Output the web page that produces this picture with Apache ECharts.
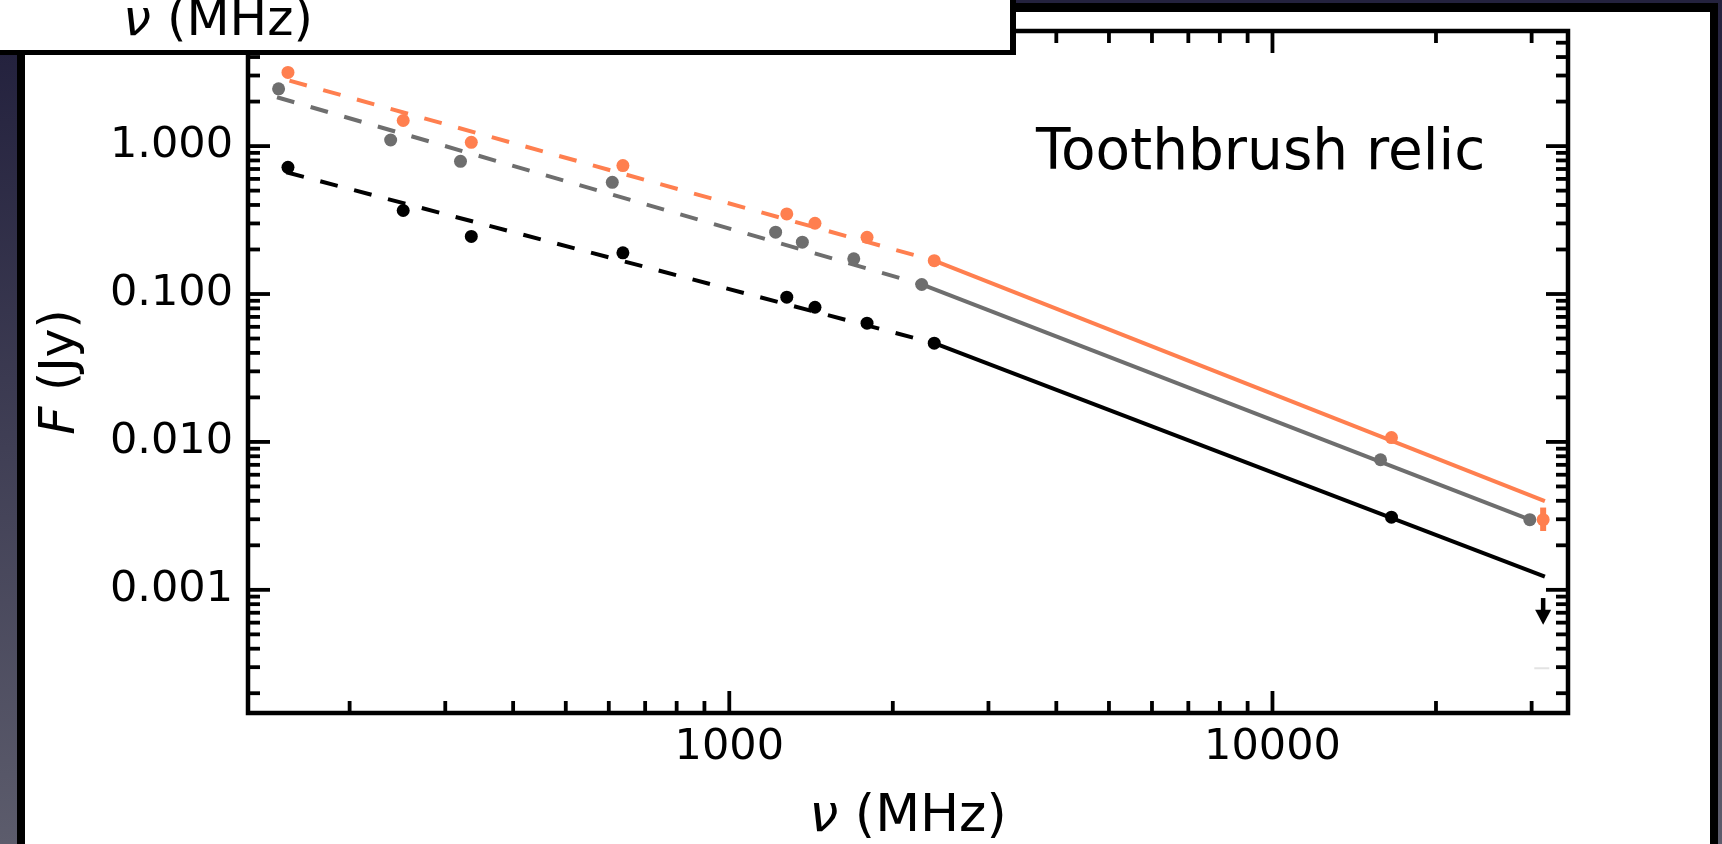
<!DOCTYPE html>
<html><head><meta charset="utf-8">
<script src="https://cdn.jsdelivr.net/npm/echarts@6/dist/echarts.min.js"></script>
<style>html,body{margin:0;padding:0;background:#fff}#c{width:1722px;height:844px}</style>
</head><body><div id="c"></div>
<script>
// Axis ranges
const X_MIN = 130, X_MAX = 35000;
const Y_MIN = 1.47e-4, Y_MAX = 6;

// Tick values
const X_MAJOR_TICKS = [1000, 10000];
const X_MINOR_TICKS = [200, 300, 400, 500, 600, 700, 800, 900, 2000, 3000, 4000, 5000, 6000, 7000, 8000, 9000, 20000, 30000];
const Y_MAJOR_TICKS = [0.001, 0.01, 0.1, 1];
const Y_MINOR_TICKS = [2e-4, 3e-4, 4e-4, 5e-4, 6e-4, 7e-4, 8e-4, 9e-4,
  0.002, 0.003, 0.004, 0.005, 0.006, 0.007, 0.008, 0.009,
  0.02, 0.03, 0.04, 0.05, 0.06, 0.07, 0.08, 0.09,
  0.2, 0.3, 0.4, 0.5, 0.6, 0.7, 0.8, 0.9, 2, 3, 4, 5];

// Measured points (MHz, Jy)
const FREQ_ORANGE = [154, 251, 335, 637, 1276, 1438, 1793, 2384, 16560, 31500];
const FLUX_ORANGE = [3.15, 1.49, 1.06, 0.738, 0.348, 0.301, 0.242, 0.168, 0.0107, 0.00298];
const FREQ_GRAY = [148, 238, 320, 609, 1217, 1363, 1695, 2261, 15810, 29770];
const FLUX_GRAY = [2.44, 1.10, 0.789, 0.569, 0.262, 0.224, 0.173, 0.116, 0.00758, 0.00298];
const FREQ_BLACK = [154, 251, 335, 637, 1276, 1438, 1793, 2384, 16560];
const FLUX_BLACK = [0.719, 0.367, 0.245, 0.190, 0.0952, 0.0814, 0.0635, 0.0465, 0.0031];

// Fitted power laws: start, break, end
const FIT_FREQ_ORANGE = [155, 2384, 31730];
const FIT_FLUX_ORANGE = [2.77, 0.168, 0.00398];
const FIT_FREQ_GRAY = [147, 2261, 29770];
const FIT_FLUX_GRAY = [2.14, 0.116, 0.00298];
const FIT_FREQ_BLACK = [153, 2384, 31730];
const FIT_FLUX_BLACK = [0.665, 0.0465, 0.00123];

// Error bar (orange, last point): freq, low, high
const ERR_ORANGE = [31500, 0.00250, 0.0036];
// Upper limit (black): freq, start, arrow tip
const UPLIM_BLACK = [31500, 8.8e-4, 5.8e-4];
// Faint grey mark
const FAINT_GRAY = [31320, 2.95e-4];

const C_ORANGE = '#ff7f4f', C_GRAY = '#6e6e6e', C_BLACK = '#000000';
const FONT = 'DejaVu Sans';

function pairs(xs, ys) { return xs.map((x, i) => [x, ys[i]]); }
function isPow10(v) { const l = Math.log10(v); return Math.abs(l - Math.round(l)) < 1e-6; }

const xTickItems = X_MAJOR_TICKS.map(v => ({ v, major: true })).concat(X_MINOR_TICKS.map(v => ({ v, major: false })));
const yTickItems = Y_MAJOR_TICKS.map(v => ({ v, major: true })).concat(Y_MINOR_TICKS.map(v => ({ v, major: false })));
const MAJ = 22, MIN = 12, TW = 3.8;

function fitSeries(fx, fy, color) {
  const d = pairs(fx, fy);
  return [
    { type: 'line', data: [d[0], d[1]], symbol: 'none', silent: true, z: 3,
      lineStyle: { color, width: 4, type: [18, 17], cap: 'butt' } },
    { type: 'line', data: [d[1], d[2]], symbol: 'none', silent: true, z: 3,
      lineStyle: { color, width: 4, type: 'solid' } }
  ];
}
function pointSeries(fx, fy, color) {
  return { type: 'scatter', data: pairs(fx, fy), symbol: 'circle', symbolSize: 13, z: 4,
    itemStyle: { color, opacity: 1 } };
}

const chart = echarts.init(document.getElementById('c'), null, { renderer: 'canvas' });
const option = {
  animation: false,
  backgroundColor: '#ffffff',
  grid: { left: 248, right: 154, top: 31, bottom: 131, containLabel: false, outerBoundsMode: 'none',
    show: true, borderColor: '#000', borderWidth: 4.5, backgroundColor: 'transparent' },
  xAxis: {
    type: 'log', logBase: 10, min: X_MIN, max: X_MAX,
    name: '{i|ν} (MHz)', nameLocation: 'middle', nameGap: 78, nameMoveOverlap: false,
    nameTextStyle: { fontFamily: FONT, fontSize: 52, color: '#000',
      rich: { i: { fontFamily: FONT, fontStyle: 'italic', fontSize: 52, color: '#000' } } },
    axisLine: { show: false }, axisTick: { show: false }, splitLine: { show: false },
    axisLabel: { show: true, margin: 13, fontFamily: FONT, fontSize: 43, color: '#000',
      showMinLabel: false, showMaxLabel: false,
      formatter: v => isPow10(v) ? String(Math.round(v)) : '' }
  },
  yAxis: {
    type: 'log', logBase: 10, min: Y_MIN, max: Y_MAX,
    name: '{i|F} (Jy)', nameLocation: 'middle', nameGap: 162, nameRotate: 90, nameMoveOverlap: false,
    nameTextStyle: { fontFamily: FONT, fontSize: 49, color: '#000',
      rich: { i: { fontFamily: FONT, fontStyle: 'italic', fontSize: 49, color: '#000' } } },
    axisLine: { show: false }, axisTick: { show: false }, splitLine: { show: false },
    axisLabel: { show: true, margin: 15, fontFamily: FONT, fontSize: 43, color: '#000',
      showMinLabel: false, showMaxLabel: false,
      formatter: v => isPow10(v) ? v.toFixed(3) : '' }
  },
  series: [
    // ticks on bottom/top
    { type: 'custom', silent: true, z: 5, data: xTickItems.map(t => [t.v, Y_MIN]),
      renderItem: (params, api) => {
        const t = xTickItems[params.dataIndex];
        const len = t.major ? MAJ : MIN;
        const b = api.coord([t.v, Y_MIN]), tp = api.coord([t.v, Y_MAX]);
        const st = { stroke: '#000', lineWidth: TW };
        return { type: 'group', children: [
          { type: 'line', shape: { x1: b[0], y1: b[1], x2: b[0], y2: b[1] - len }, style: st },
          { type: 'line', shape: { x1: tp[0], y1: tp[1], x2: tp[0], y2: tp[1] + len }, style: st }
        ] };
      } },
    // ticks on left/right
    { type: 'custom', silent: true, z: 5, data: yTickItems.map(t => [X_MIN, t.v]),
      renderItem: (params, api) => {
        const t = yTickItems[params.dataIndex];
        const len = t.major ? MAJ : MIN;
        const l = api.coord([X_MIN, t.v]), r = api.coord([X_MAX, t.v]);
        const st = { stroke: '#000', lineWidth: TW };
        return { type: 'group', children: [
          { type: 'line', shape: { x1: l[0], y1: l[1], x2: l[0] + len, y2: l[1] }, style: st },
          { type: 'line', shape: { x1: r[0], y1: r[1], x2: r[0] - len, y2: r[1] }, style: st }
        ] };
      } },
    ...fitSeries(FIT_FREQ_ORANGE, FIT_FLUX_ORANGE, C_ORANGE),
    ...fitSeries(FIT_FREQ_GRAY, FIT_FLUX_GRAY, C_GRAY),
    ...fitSeries(FIT_FREQ_BLACK, FIT_FLUX_BLACK, C_BLACK),
    pointSeries(FREQ_ORANGE, FLUX_ORANGE, C_ORANGE),
    pointSeries(FREQ_GRAY, FLUX_GRAY, C_GRAY),
    pointSeries(FREQ_BLACK, FLUX_BLACK, C_BLACK),
    // orange error bar
    { type: 'custom', silent: true, z: 4, data: [ERR_ORANGE], encode: { x: 0, y: 1 },
      renderItem: (params, api) => {
        const a = api.coord([api.value(0), api.value(1)]), b = api.coord([api.value(0), api.value(2)]);
        return { type: 'line', shape: { x1: a[0], y1: a[1], x2: b[0], y2: b[1] },
          style: { stroke: C_ORANGE, lineWidth: 6 } };
      } },
    // black upper limit arrow
    { type: 'custom', silent: true, z: 4, data: [UPLIM_BLACK], encode: { x: 0, y: 1 },
      renderItem: (params, api) => {
        const a = api.coord([api.value(0), api.value(1)]), b = api.coord([api.value(0), api.value(2)]);
        return { type: 'group', children: [
          { type: 'line', shape: { x1: a[0], y1: a[1], x2: b[0], y2: b[1] - 10 }, style: { stroke: '#000', lineWidth: 4.5 } },
          { type: 'polygon', shape: { points: [[b[0], b[1]], [b[0] - 8, b[1] - 15], [b[0] + 8, b[1] - 15]] }, style: { fill: '#000' } }
        ] };
      } },
    { type: 'scatter', silent: true, z: 3, data: [FAINT_GRAY], symbol: 'rect', symbolSize: [15, 2],
      itemStyle: { color: '#dcdcdc' } }
  ],
  graphic: [
    // dark slide background strips
    { type: 'rect', z: 50, shape: { x: 0, y: 53, width: 17, height: 791 },
      style: { fill: { type: 'linear', x: 0, y: 0, x2: 0, y2: 1, colorStops: [{ offset: 0, color: '#24223e' }, { offset: 1, color: '#5c5c6c' }] } } },
    { type: 'rect', z: 50, shape: { x: 17, y: 53, width: 8, height: 791 }, style: { fill: '#000' } },
    { type: 'rect', z: 50, shape: { x: 1718, y: 0, width: 4, height: 844 },
      style: { fill: { type: 'linear', x: 0, y: 0, x2: 0, y2: 1, colorStops: [{ offset: 0, color: '#24223e' }, { offset: 1, color: '#5c5c6c' }] } } },
    { type: 'rect', z: 50, shape: { x: 1710, y: 0, width: 8, height: 844 }, style: { fill: '#000' } },
    { type: 'rect', z: 50, shape: { x: 1012, y: 0, width: 710, height: 3 }, style: { fill: '#24223e' } },
    { type: 'rect', z: 50, shape: { x: 1012, y: 3, width: 706, height: 9 }, style: { fill: '#000' } },
    // white overlay box at top-left
    { type: 'rect', z: 60, shape: { x: 0, y: 0, width: 1011, height: 50 }, style: { fill: '#fff' } },
    { type: 'rect', z: 61, shape: { x: 0, y: 50, width: 1016, height: 5 }, style: { fill: '#000' } },
    { type: 'rect', z: 61, shape: { x: 1010, y: 0, width: 6, height: 55 }, style: { fill: '#000' } },
    { type: 'text', z: 62, style: { text: '{i|ν} (MHz)', x: 218, y: 22, align: 'center', verticalAlign: 'middle',
      font: '50px "DejaVu Sans"', fill: '#000',
      rich: { i: { fontFamily: FONT, fontStyle: 'italic', fontSize: 50, fill: '#000' } } } },
    // annotation
    { type: 'text', z: 40, style: { text: 'Toothbrush relic', x: 1036, y: 154, align: 'left', verticalAlign: 'middle',
      font: '56.5px "DejaVu Sans"', fill: '#000' } }
  ]
};
chart.setOption(option);
</script>
</body></html>
